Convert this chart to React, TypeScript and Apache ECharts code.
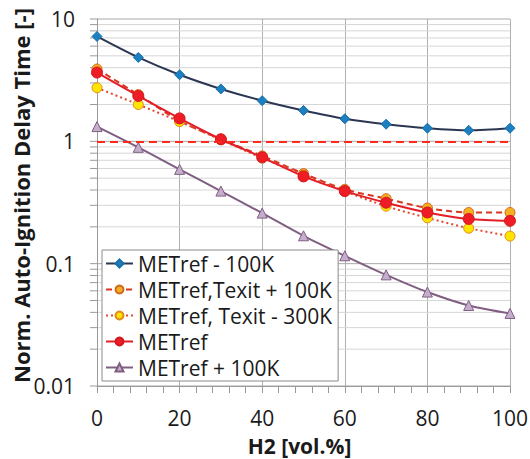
import React, { useEffect, useRef } from "react";
import * as echarts from "echarts";

const xValues = [0, 10, 20, 30, 40, 50, 60, 70, 80, 90, 100];
const seriesNames = [
  "METref - 100K",
  "METref,Texit + 100K",
  "METref, Texit - 300K",
  "METref",
  "METref + 100K",
];
const metrefMinus100 = [7.2, 4.85, 3.5, 2.68, 2.15, 1.79, 1.53, 1.38, 1.28, 1.23, 1.28];
const texitPlus100 = [3.9, 2.41, 1.47, 1.04, 0.76, 0.545, 0.405, 0.34, 0.285, 0.262, 0.262];
const texitMinus300 = [2.74, 2.0, 1.45, 1.03, 0.73, 0.53, 0.39, 0.295, 0.237, 0.195, 0.168];
const metref = [3.65, 2.35, 1.54, 1.04, 0.74, 0.517, 0.392, 0.315, 0.262, 0.232, 0.224];
const metrefPlus100 = [1.32, 0.893, 0.59, 0.392, 0.259, 0.169, 0.116, 0.081, 0.0586, 0.0455, 0.0392];
const referenceLevel = 1;
const decades = [0.01, 0.1, 1];
const minorFactors = [2, 3, 4, 5, 6, 7, 8, 9];
const yTickLabels = ["0.01", "0.1", "1", "10"];

const FONT = "'Open Sans', 'Noto Sans', sans-serif";

export default function App() {
  const ref = useRef<HTMLDivElement>(null);
  useEffect(() => {
    if (!ref.current) return;
    const chart = echarts.init(ref.current, null, { renderer: "svg" });
    const pair = (arr: number[]) => xValues.map((x, i) => [x, arr[i]]);
    const minorValues: number[] = [];
    decades.forEach((d) => minorFactors.forEach((f) => minorValues.push(d * f)));
    const majorValues = [0.01, 0.1, 1, 10];

    const gridSeries = {
      type: "custom",
      silent: true,
      z: 0,
      data: [
        ...minorValues.map((v) => [v, 0]),
        ...majorValues.map((v) => [v, 1]),
      ],
      encode: { x: -1, y: 0 },
      renderItem: (params: any, api: any) => {
        const v = api.value(0);
        const major = api.value(1) === 1;
        const p0 = api.coord([0, v]);
        const p1 = api.coord([100, v]);
        return {
          type: "group",
          children: [
            {
              type: "line",
              shape: { x1: p0[0], y1: p0[1], x2: p1[0], y2: p1[1] },
              style: { stroke: major ? "#a8a8a8" : "#d6d6d6", lineWidth: 1 },
            },
            {
              type: "line",
              shape: { x1: p0[0] - 7, y1: p0[1], x2: p0[0], y2: p0[1] },
              style: { stroke: "#9a9a9a", lineWidth: 1 },
            },
          ],
        };
      },
    };

    const option: any = {
      animation: false,
      backgroundColor: "#ffffff",
      textStyle: { fontFamily: FONT },
      grid: { left: 97, right: 20, top: 19, bottom: 73, containLabel: false, outerBoundsMode: "none" },
      legend: {
        data: seriesNames,
        orient: "vertical",
        left: 102,
        top: 250,
        width: 227,
        padding: [3, 6, 3, 3],
        itemGap: 5,
        itemWidth: 27,
        itemHeight: 10,
        backgroundColor: "#ffffff",
        borderColor: "#8a8a8a",
        borderWidth: 1,
        textStyle: { fontSize: 21, color: "#1a1a1a", fontFamily: FONT },
      },
      xAxis: {
        type: "value",
        min: 0,
        max: 100,
        interval: 20,
        name: "H2 [vol.%]",
        nameLocation: "middle",
        nameGap: 49,
        nameMoveOverlap: false,
        nameTextStyle: { fontSize: 21, fontWeight: "bold", color: "#1a1a1a", fontFamily: FONT, padding: [0, 8, 0, 0] },
        axisLine: { lineStyle: { color: "#9a9a9a" } },
        axisTick: { show: true, inside: false, length: 7, lineStyle: { color: "#9a9a9a" } },
        minorTick: { show: true, splitNumber: 5, length: 7, lineStyle: { color: "#9a9a9a" } },
        axisLabel: { fontSize: 21, color: "#1a1a1a", margin: 21, fontFamily: FONT },
        splitLine: { show: true, lineStyle: { color: "#b0b0b0", width: 1 } },
      },
      yAxis: {
        type: "log",
        logBase: 10,
        min: 0.01,
        max: 10,
        name: "Norm. Auto-Ignition Delay Time [-]",
        nameLocation: "middle",
        nameGap: 65,
        nameMoveOverlap: false,
        nameTextStyle: { fontSize: 22, fontWeight: "bold", color: "#1a1a1a", fontFamily: FONT, padding: [0, 0, 0, 14] },
        axisLine: { show: true, lineStyle: { color: "#9a9a9a" } },
        axisTick: { show: false },
        axisLabel: {
          fontSize: 21,
          color: "#1a1a1a",
          margin: 22,
          fontFamily: FONT,
          formatter: (v: number) => {
            const idx = majorValues.findIndex((m) => Math.abs(m - v) / m < 1e-6);
            return idx >= 0 ? yTickLabels[idx] : "";
          },
        },
        splitLine: { show: false },
      },
      series: [
        gridSeries,
        {
          name: seriesNames[0],
          type: "line",
          smooth: 0.3,
          data: pair(metrefMinus100),
          symbol: "diamond",
          symbolSize: 10,
          lineStyle: { color: "#2b3652", width: 2 },
          itemStyle: { color: "#1b7fc0", borderColor: "#1b6fa8", borderWidth: 1 },
          z: 3,
        },
        {
          name: seriesNames[1],
          type: "line",
          smooth: 0.3,
          data: pair(texitPlus100),
          symbol: "circle",
          symbolSize: 10,
          lineStyle: { color: "#d8361e", width: 2, type: [6, 4] },
          itemStyle: { color: "#f4b020", borderColor: "#d06a20", borderWidth: 1 },
          z: 3,
          markLine: {
            silent: true,
            symbol: "none",
            label: { show: false },
            lineStyle: { color: "#ff2a1a", width: 2, type: [8, 5] },
            data: [{ yAxis: referenceLevel }],
          },
        },
        {
          name: seriesNames[2],
          type: "line",
          smooth: 0.3,
          data: pair(texitMinus300),
          symbol: "circle",
          symbolSize: 10,
          lineStyle: { color: "#e04a30", width: 2, type: [2, 3] },
          itemStyle: { color: "#ffe400", borderColor: "#e08a20", borderWidth: 1 },
          z: 3,
        },
        {
          name: seriesNames[3],
          type: "line",
          smooth: 0.3,
          data: pair(metref),
          symbol: "circle",
          symbolSize: 11,
          lineStyle: { color: "#e41e26", width: 2 },
          itemStyle: { color: "#ee1c24", borderColor: "#d01a20", borderWidth: 1 },
          z: 4,
        },
        {
          name: seriesNames[4],
          type: "line",
          smooth: 0.3,
          data: pair(metrefPlus100),
          symbol: "triangle",
          symbolSize: 10,
          lineStyle: { color: "#7f5e82", width: 2 },
          itemStyle: { color: "#c4aecb", borderColor: "#7f5e82", borderWidth: 1 },
          z: 3,
        },
      ],
    };
    chart.setOption(option);
    return () => chart.dispose();
  }, []);
  return <div ref={ref} style={{ width: 530, height: 459, position: "absolute", left: 0, top: 0 }} />;
}
